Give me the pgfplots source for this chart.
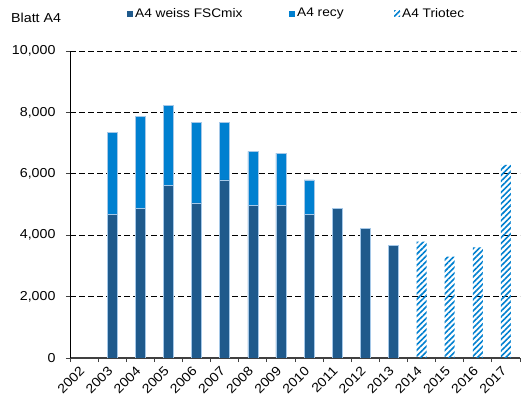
\documentclass[border=0pt]{standalone}
\usepackage{pgfplots}
\pgfplotsset{compat=1.18}
\usepackage{fontspec}
\setmainfont[FakeStretch=1.1]{Liberation Sans}
\usetikzlibrary{patterns.meta}
\definecolor{dkblue}{RGB}{31,90,140}
\definecolor{ltblue}{RGB}{0,128,208}
\definecolor{edgeblue}{RGB}{165,200,232}
\definecolor{axgray}{RGB}{64,64,64}

\pgfplotstableread{
x dark recy triotec
0 0 0 0
1 4690 2660 0
2 4880 2980 0
3 5620 2610 0
4 5050 2615 0
5 5800 1865 0
6 4970 1760 0
7 4970 1700 0
8 4680 1120 0
9 4860 0 0
10 4230 0 0
11 3660 0 0
12 0 0 3790
13 0 0 3300
14 0 0 3600
15 0 0 6290
}\datatable

\begin{document}
\fontsize{13}{15}\selectfont
\begin{tikzpicture}
\path[use as bounding box] (0,0) rectangle (521bp,405bp);
\node[anchor=west, inner sep=0pt] at (11bp,387bp) {Blatt A4};
\begin{axis}[
  at={(70bp,47bp)}, anchor=south west,
  scale only axis, width=450bp, height=307bp,
  ybar stacked, bar width=10bp,
  xmin=-0.5, xmax=15.5, ymin=0, ymax=10000,
  axis lines*=left,
  x axis line style={draw=axgray, line width=1.2bp},
  y axis line style={draw=black, line width=0.9bp},
  xtick={-0.5,0.5,...,15.5},
  xticklabels={2002,2003,2004,2005,2006,2007,2008,2009,2010,2011,2012,2013,2014,2015,2016,2017,{}},
  xticklabel style={xshift=13bp, yshift=-6bp, rotate=45, anchor=east, inner sep=1bp, font=\fontsize{13}{15}\selectfont},
  ytick={0,2000,...,10000},
  yticklabel style={font=\fontsize{13}{15}\selectfont, xshift=-6bp},
  /pgf/number format/.cd, 1000 sep={,}, assume math mode=true, /pgfplots/.cd,
  scaled y ticks=false,
  tick align=outside, major tick length=4bp,
  tick style={draw=axgray, line width=0.8bp},
  ymajorgrids,
  major grid style={draw=black, dash pattern=on 6bp off 3bp, line width=0.9bp},
  legend style={at={(0.12,1.122)}, anchor=west, draw=none, fill=none,
    legend columns=3, font=\fontsize{12.5}{14}\selectfont,
    /tikz/every even column/.style={column sep=0bp},
    nodes={inner xsep=2bp, inner ysep=0pt}},
  legend image code/.code={\path[#1, draw=none] (0bp,-3bp) rectangle (6bp,3bp);},
]
\addplot[fill=dkblue, draw=edgeblue, line width=0.6bp] table[x=x, y=dark] {\datatable};
\addplot[fill=ltblue, draw=edgeblue, line width=0.6bp] table[x=x, y=recy] {\datatable};
\addplot[draw=none, pattern={Lines[angle=45, distance=4bp, line width=1.6bp]}, pattern color=ltblue] table[x=x, y=triotec] {\datatable};
\legend{\makebox[152bp][l]{A4 weiss FSCmix}, \makebox[95bp][l]{A4 recy}, A4 Triotec}
\end{axis}
\end{tikzpicture}
\end{document}
